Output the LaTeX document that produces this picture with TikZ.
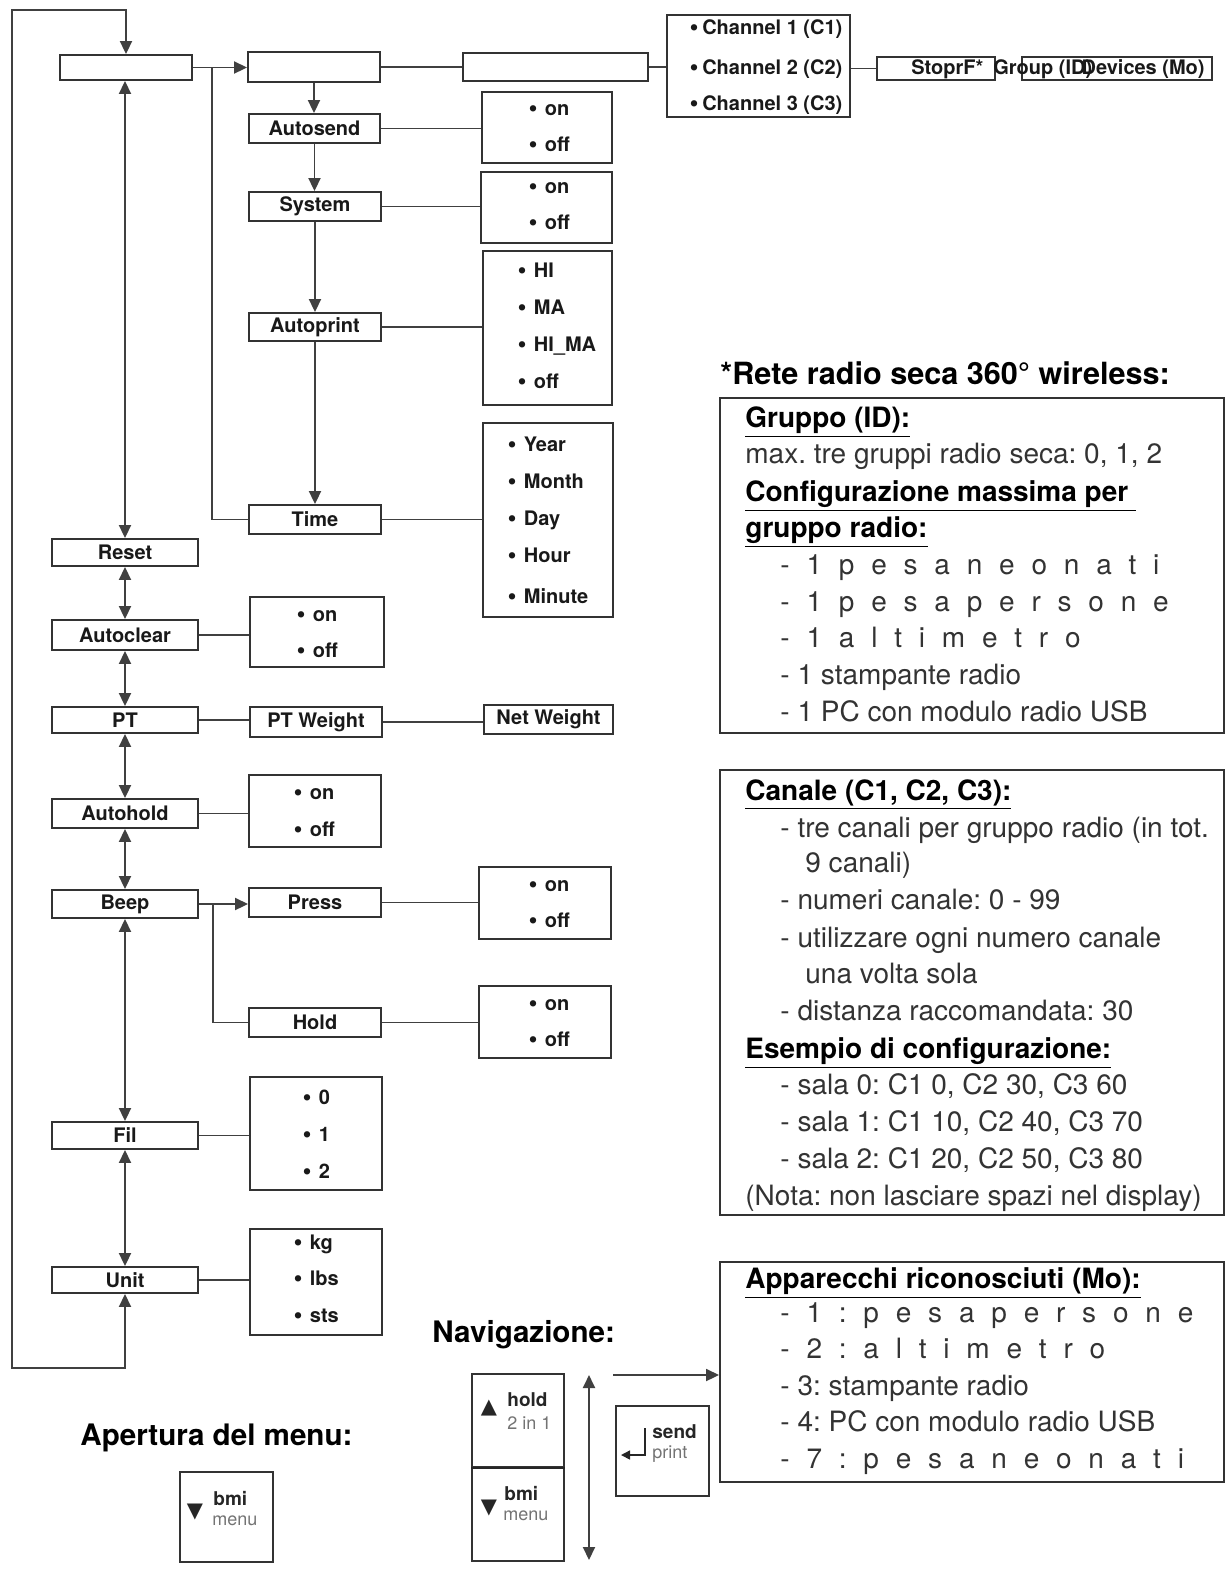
\documentclass[tikz,border=0pt]{standalone}
\usepackage{fontspec}
\setmainfont{TeX Gyre Heros}
\newfontfamily\dejavu{DejaVu Sans}
\usetikzlibrary{arrows.meta}
\frenchspacing
\tikzset{
 ln/.style={draw=black!75, line width=0.95pt},
 arr/.style={ln, -{Triangle[length=6.5pt,width=6pt]}},
 dar/.style={ln, {Triangle[length=6.5pt,width=6pt]}-{Triangle[length=6.5pt,width=6pt]}},
 box/.style={draw=black!80, line width=0.95pt, rectangle, inner sep=0pt, font=\fontsize{10}{12}\selectfont\bfseries, text=black!90},
 opt/.style={anchor=west, inner sep=0pt, font=\fontsize{10}{12}\selectfont\bfseries, text=black!90, text height=7.2pt, text depth=2pt},
 info/.style={anchor=base west, inner sep=0pt, font=\fontsize{14}{16}\selectfont, text=black!80},
 infob/.style={anchor=base west, inner sep=0pt, font=\fontsize{14}{16}\selectfont\bfseries, text=black},
 head/.style={anchor=base west, inner sep=0pt, font=\fontsize{14.8}{17}\selectfont\bfseries},
 keyb/.style={anchor=west, inner sep=0pt, font=\fontsize{9.5}{11}\selectfont\bfseries, text=black!85},
 keyr/.style={anchor=west, inner sep=0pt, font=\fontsize{9}{11}\selectfont, text=black!55},
 tri/.style={inner sep=0pt, font=\dejavu\fontsize{10.5}{11}\selectfont, text=black!85},
}
\newcommand\bxc[6]{\node[box, minimum width={(#4-#2)*0.5pt}, minimum height={(#5-#3)*0.5pt}] (#1) at ({(#2+#4)/2},{(#3+#5)/2}) {#6};}
\newcommand\bul{{\dejavu\fontsize{9}{10}\selectfont •}\hspace{0.3em}}
\newcommand\bulc{{\dejavu\fontsize{9}{10}\selectfont •}\hspace{0.12em}}
\def\spc#1{\spcA#1\relax}
\def\spcA#1{\ifx#1\relax\else#1\hspace{0.6em}\expandafter\spcA\fi}
\begin{document}
\begin{tikzpicture}[x=0.5pt,y=-0.5pt]
\useasboundingbox (0,0) rectangle (1232,1576);
% ---------- top row
\bxc{m1}{60}{55}{192}{80}{}
\bxc{m2}{248}{52}{380}{82}{}
\bxc{m3}{463}{53}{648}{81}{}
\bxc{ch}{667}{15}{850}{117}{}
\node[opt] (c1) at (688,29) {\bulc Channel 1 (C1)};
\node[opt] (c2) at (688,69) {\bulc Channel 2 (C2)};
\node[opt] (c3) at (688,105) {\bulc Channel 3 (C3)};
\bxc{sf}{877}{57}{995}{80}{}
\bxc{dv}{1022}{57}{1212}{80}{}
\node[opt] (sft) at (911,69) {StoprF*};
\node[opt] (grt) at (993,69) {Group (ID)};
\node[opt,anchor=east] (dvt) at (1205,69) {Devices (Mo)};
% ---------- middle column
\bxc{autosend}{249}{114}{380}{143}{Autosend}
\bxc{oa}{482}{92}{612}{163}{}
\node[opt] (oa1) at (527,110) {\bul on};
\node[opt] (oa2) at (527,146) {\bul off};
\bxc{system}{249}{192}{381}{221}{System}
\bxc{os}{481}{172}{612}{243}{}
\node[opt] (os1) at (527,188) {\bul on};
\node[opt] (os2) at (527,224) {\bul off};
\bxc{autoprint}{249}{313}{381}{341}{Autoprint}
\bxc{oap}{483}{251}{612}{405}{}
\node[opt] (oap1) at (516,272) {\bul HI};
\node[opt] (oap2) at (516,309) {\bul MA};
\node[opt] (oap3) at (516,346) {\bul HI\_MA};
\node[opt] (oap4) at (516,383) {\bul off};
\bxc{time}{249}{505}{381}{534}{Time}
\bxc{ot}{483}{423}{613}{617}{}
\node[opt] (ot1) at (506,446) {\bul Year};
\node[opt] (ot2) at (506,483) {\bul Month};
\node[opt] (ot3) at (506,520) {\bul Day};
\node[opt] (ot4) at (506,557) {\bul Hour};
\node[opt] (ot5) at (506,598) {\bul Minute};
% ---------- left column
\bxc{reset}{52}{539}{198}{566}{Reset}
\bxc{autoclear}{52}{620}{198}{650}{Autoclear}
\bxc{oac}{250}{597}{384}{667}{}
\node[opt] (oac1) at (295,616) {\bul on};
\node[opt] (oac2) at (295,652) {\bul off};
\bxc{pt}{52}{707}{198}{733}{PT}
\bxc{ptw}{250}{707}{382}{737}{PT Weight}
\bxc{nw}{484}{705}{613}{734}{Net Weight}
\bxc{autohold}{52}{799}{198}{828}{Autohold}
\bxc{oah}{249}{775}{381}{847}{}
\node[opt] (oah1) at (292,794) {\bul on};
\node[opt] (oah2) at (292,831) {\bul off};
\bxc{beep}{52}{890}{198}{918}{Beep}
\bxc{press}{249}{888}{381}{917}{Press}
\bxc{op}{479}{867}{611}{939}{}
\node[opt] (op1) at (527,886) {\bul on};
\node[opt] (op2) at (527,922) {\bul off};
\bxc{hold}{249}{1008}{381}{1037}{Hold}
\bxc{oh}{479}{986}{611}{1058}{}
\node[opt] (oh1) at (527,1005) {\bul on};
\node[opt] (oh2) at (527,1041) {\bul off};
\bxc{fil}{52}{1122}{198}{1149}{Fil}
\bxc{of}{250}{1077}{382}{1190}{}
\node[opt] (of1) at (301,1099) {\bul 0};
\node[opt] (of2) at (301,1136) {\bul 1};
\node[opt] (of3) at (301,1173) {\bul 2};
\bxc{unit}{52}{1267}{198}{1293}{Unit}
\bxc{ou}{250}{1229}{382}{1335}{}
\node[opt] (ou1) at (292,1244) {\bul kg};
\node[opt] (ou2) at (292,1280) {\bul lbs};
\node[opt] (ou3) at (292,1317) {\bul sts};
% ---------- connectors
\coordinate (lpA) at (12,10);
\coordinate (lpB) at (12,1368);
\draw[dar] (m1.north) |- (lpA) -- (lpB) -| (unit.south);
\draw[arr] (m1.east) -- (m1.east -| m2.west);
\coordinate (br1) at (212,67.5);
\draw[ln] (br1) |- (time.west);
\draw[ln] (m2.east) -- (m2.east -| m3.west);
\draw[ln] (m3.east) -- (m3.east -| ch.west);
\draw[ln] (sf.west -| ch.east) -- (sf.west);
\draw[arr] (m2.south) -- (m2.south |- autosend.north);
\draw[arr] (autosend.south) -- (autosend.south |- system.north);
\draw[arr] (system.south) -- (system.south |- autoprint.north);
\draw[arr] (autoprint.south) -- (autoprint.south |- time.north);
\draw[ln] (autosend.east) -- (autosend.east -| oa.west);
\draw[ln] (system.east) -- (system.east -| os.west);
\draw[ln] (autoprint.east) -- (autoprint.east -| oap.west);
\draw[ln] (time.east) -- (time.east -| ot.west);
\draw[dar] (reset.north) -- (reset.north |- m1.south);
\draw[dar] (reset.south) -- (autoclear.north);
\draw[dar] (autoclear.south) -- (pt.north);
\draw[dar] (pt.south) -- (autohold.north);
\draw[dar] (autohold.south) -- (beep.north);
\draw[dar] (beep.south) -- (fil.north);
\draw[dar] (fil.south) -- (unit.north);
\draw[ln] (autoclear.east) -- (autoclear.east -| oac.west);
\draw[ln] (pt.east) -- (pt.east -| ptw.west);
\draw[ln] (ptw.east) -- (ptw.east -| nw.west);
\draw[ln] (autohold.east) -- (autohold.east -| oah.west);
\draw[arr] (beep.east) -- (beep.east -| press.west);
\coordinate (br2) at (213,904);
\draw[ln] (br2) |- (hold.west);
\draw[ln] (press.east) -- (press.east -| op.west);
\draw[ln] (hold.east) -- (hold.east -| oh.west);
\draw[ln] (fil.east) -- (fil.east -| of.west);
\draw[ln] (unit.east) -- (unit.east -| ou.west);
% ---------- right info boxes
\node[head, font=\fontsize{15.3}{17}\selectfont\bfseries] (rete) at (720,384) {*Rete radio seca 360° wireless:};
\bxc{gbox}{720}{398}{1224}{733}{}
\node[infob] (g1) at (745,427) {\underline{Gruppo (ID):}};
\node[info] (g2) at (745,463) {max. tre gruppi radio seca: 0, 1, 2};
\node[infob] (g3) at (745,501) {\underline{Configurazione massima per\ }};
\node[infob] (g4) at (745,537) {\underline{gruppo radio:}};
\node[info] (g5) at (780,574) {\spc{-1pesaneonati}};
\node[info] (g6) at (780,611) {\spc{-1pesapersone}};
\node[info] (g7) at (780,647) {\spc{-1altimetro}};
\node[info] (g8) at (780,684) {- 1 stampante radio};
\node[info] (g9) at (780,721) {- 1 PC con modulo radio USB};
\bxc{cbox}{720}{770}{1224}{1215}{}
\node[infob] (k1) at (745,800) {\underline{Canale (C1, C2, C3):}};
\node[info] (k2) at (780,837) {- tre canali per gruppo radio (in tot.};
\node[info] (k3) at (805,872) {9 canali)};
\node[info] (k4) at (780,909) {- numeri canale: 0 - 99};
\node[info] (k5) at (780,947) {- utilizzare ogni numero canale};
\node[info] (k6) at (805,983) {una volta sola};
\node[info] (k7) at (780,1020) {- distanza raccomandata: 30};
\node[infob] (k8) at (745,1058) {\underline{Esempio di configurazione:}};
\node[info] (k9) at (780,1094) {- sala 0: C1 0, C2 30, C3 60};
\node[info] (k10) at (780,1131) {- sala 1: C1 10, C2 40, C3 70};
\node[info] (k11) at (780,1168) {- sala 2: C1 20, C2 50, C3 80};
\node[info] (k12) at (745,1205) {(Nota: non lasciare spazi nel display)};
\bxc{abox}{720}{1262}{1224}{1482}{}
\node[infob] (a1) at (745,1288) {\underline{Apparecchi riconosciuti (Mo):}};
\node[info] (a2) at (780,1322) {\spc{-1:pesapersone}};
\node[info] (a3) at (780,1358) {\spc{-2:altimetro}};
\node[info] (a4) at (780,1395) {- 3: stampante radio};
\node[info] (a5) at (780,1431) {- 4: PC con modulo radio USB};
\node[info] (a6) at (780,1468) {\spc{-7:pesaneonati}};
% ---------- navigation
\node[head] (navt) at (432,1342) {Navigazione:};
\bxc{navup}{472}{1374}{564}{1467}{}
\bxc{navdn}{472}{1467}{564}{1561}{}
\draw[line width=1.4pt, black!85] (navup.south west) -- (navup.south east);
\node[tri] (tu) at (489,1408) {▲};
\node[keyb] (tu1) at (507,1400) {hold};
\node[keyr] (tu2) at (507,1423) {2 in 1};
\node[tri] (td) at (489,1508) {▼};
\node[keyb] (td1) at (504,1493) {bmi};
\node[keyr] (td2) at (503,1516) {menu};
\coordinate (vA) at (589,1375);
\coordinate (vB) at (589,1560);
\draw[dar] (vA) -- (vB);
\coordinate (hA) at (613,1375);
\draw[arr] (hA) -- (hA -| abox.west);
\bxc{sendk}{616}{1406}{709}{1496}{}
\node[keyb] (sk1) at (652,1432) {send};
\node[keyr] (sk2) at (652,1454) {print};
\coordinate (rt1) at (645,1428);
\coordinate (rt2) at (645,1455);
\coordinate (rt3) at (621,1455);
\draw[black!85, line width=0.8pt, -{Triangle[length=4.5pt,width=4.5pt]}] (rt1) -- (rt2) -- (rt3);
% ---------- menu opening
\node[head] (apt) at (80,1445) {Apertura del menu:};
\bxc{menuk}{180}{1472}{273}{1562}{}
\node[tri] (mt) at (195,1512) {▼};
\node[keyb] (mk1) at (213,1498) {bmi};
\node[keyr] (mk2) at (212,1521) {menu};
\end{tikzpicture}
\end{document}
